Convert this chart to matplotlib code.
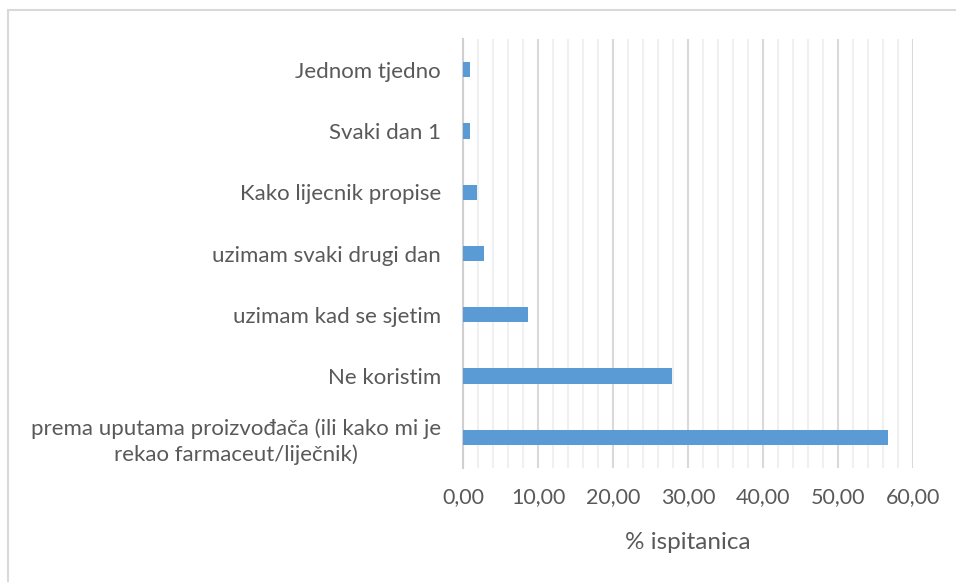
import numpy as np
from matplotlib import pyplot as plt
from matplotlib.patches import Rectangle
from matplotlib.ticker import FuncFormatter, MultipleLocator

# data, bottom to top
categories = [
    "prema uputama proizvođača (ili kako mi je\nrekao farmaceut/liječnik)",
    "Ne koristim",
    "uzimam kad se sjetim",
    "uzimam svaki drugi dan",
    "Kako lijecnik propise",
    "Svaki dan 1",
    "Jednom tjedno",
]
percent = [56.7, 27.9, 8.7, 2.8, 1.8, 0.9, 0.9]
x_label = "% ispitanica"

text_color = "#595959"
plt.rcParams['font.family'] = ['Lato', 'DejaVu Sans']

fig = plt.figure(figsize=(9.56, 5.82), dpi=100)
ax = fig.add_axes([463 / 956, 114 / 582, 450 / 956, 429 / 582])

# outer chart frame (cut off at right and bottom like the screenshot)
fig.patches.append(Rectangle((8 / 956, -0.1), 1.2, (582 - 10) / 582 + 0.1,
                             transform=fig.transFigure, fill=False,
                             edgecolor="#d9d9d9", linewidth=1.5))

y = np.arange(len(categories))
ax.barh(y, percent, height=0.25, color="#5b9bd5", zorder=3)

ax.set_xlim(0, 60)
ax.set_ylim(-0.5, len(categories) - 0.5)
ax.xaxis.set_major_locator(MultipleLocator(10))
ax.xaxis.set_minor_locator(MultipleLocator(2))
ax.xaxis.set_major_formatter(FuncFormatter(lambda v, p: f"{v:.2f}".replace(".", ",")))
ax.grid(axis="x", which="major", color="#d9d9d9", linewidth=1.5, zorder=0)
ax.grid(axis="x", which="minor", color="#f0f0f0", linewidth=1.5, zorder=0)

ax.set_yticks(y)
ax.set_yticklabels(categories, multialignment="center", linespacing=1.3)
ax.tick_params(axis="y", length=0, pad=16, labelsize=16, labelcolor=text_color)
ax.tick_params(axis="x", which="both", length=0, pad=14, labelsize=15.5,
               labelcolor=text_color)

for side in ["top", "right", "bottom"]:
    ax.spines[side].set_visible(False)
ax.spines["left"].set_color("#d0d0d0")
ax.spines["left"].set_linewidth(1.5)

ax.set_xlabel(x_label, fontsize=17.5, color=text_color, labelpad=18)

fig.savefig("out.png", dpi=100)
